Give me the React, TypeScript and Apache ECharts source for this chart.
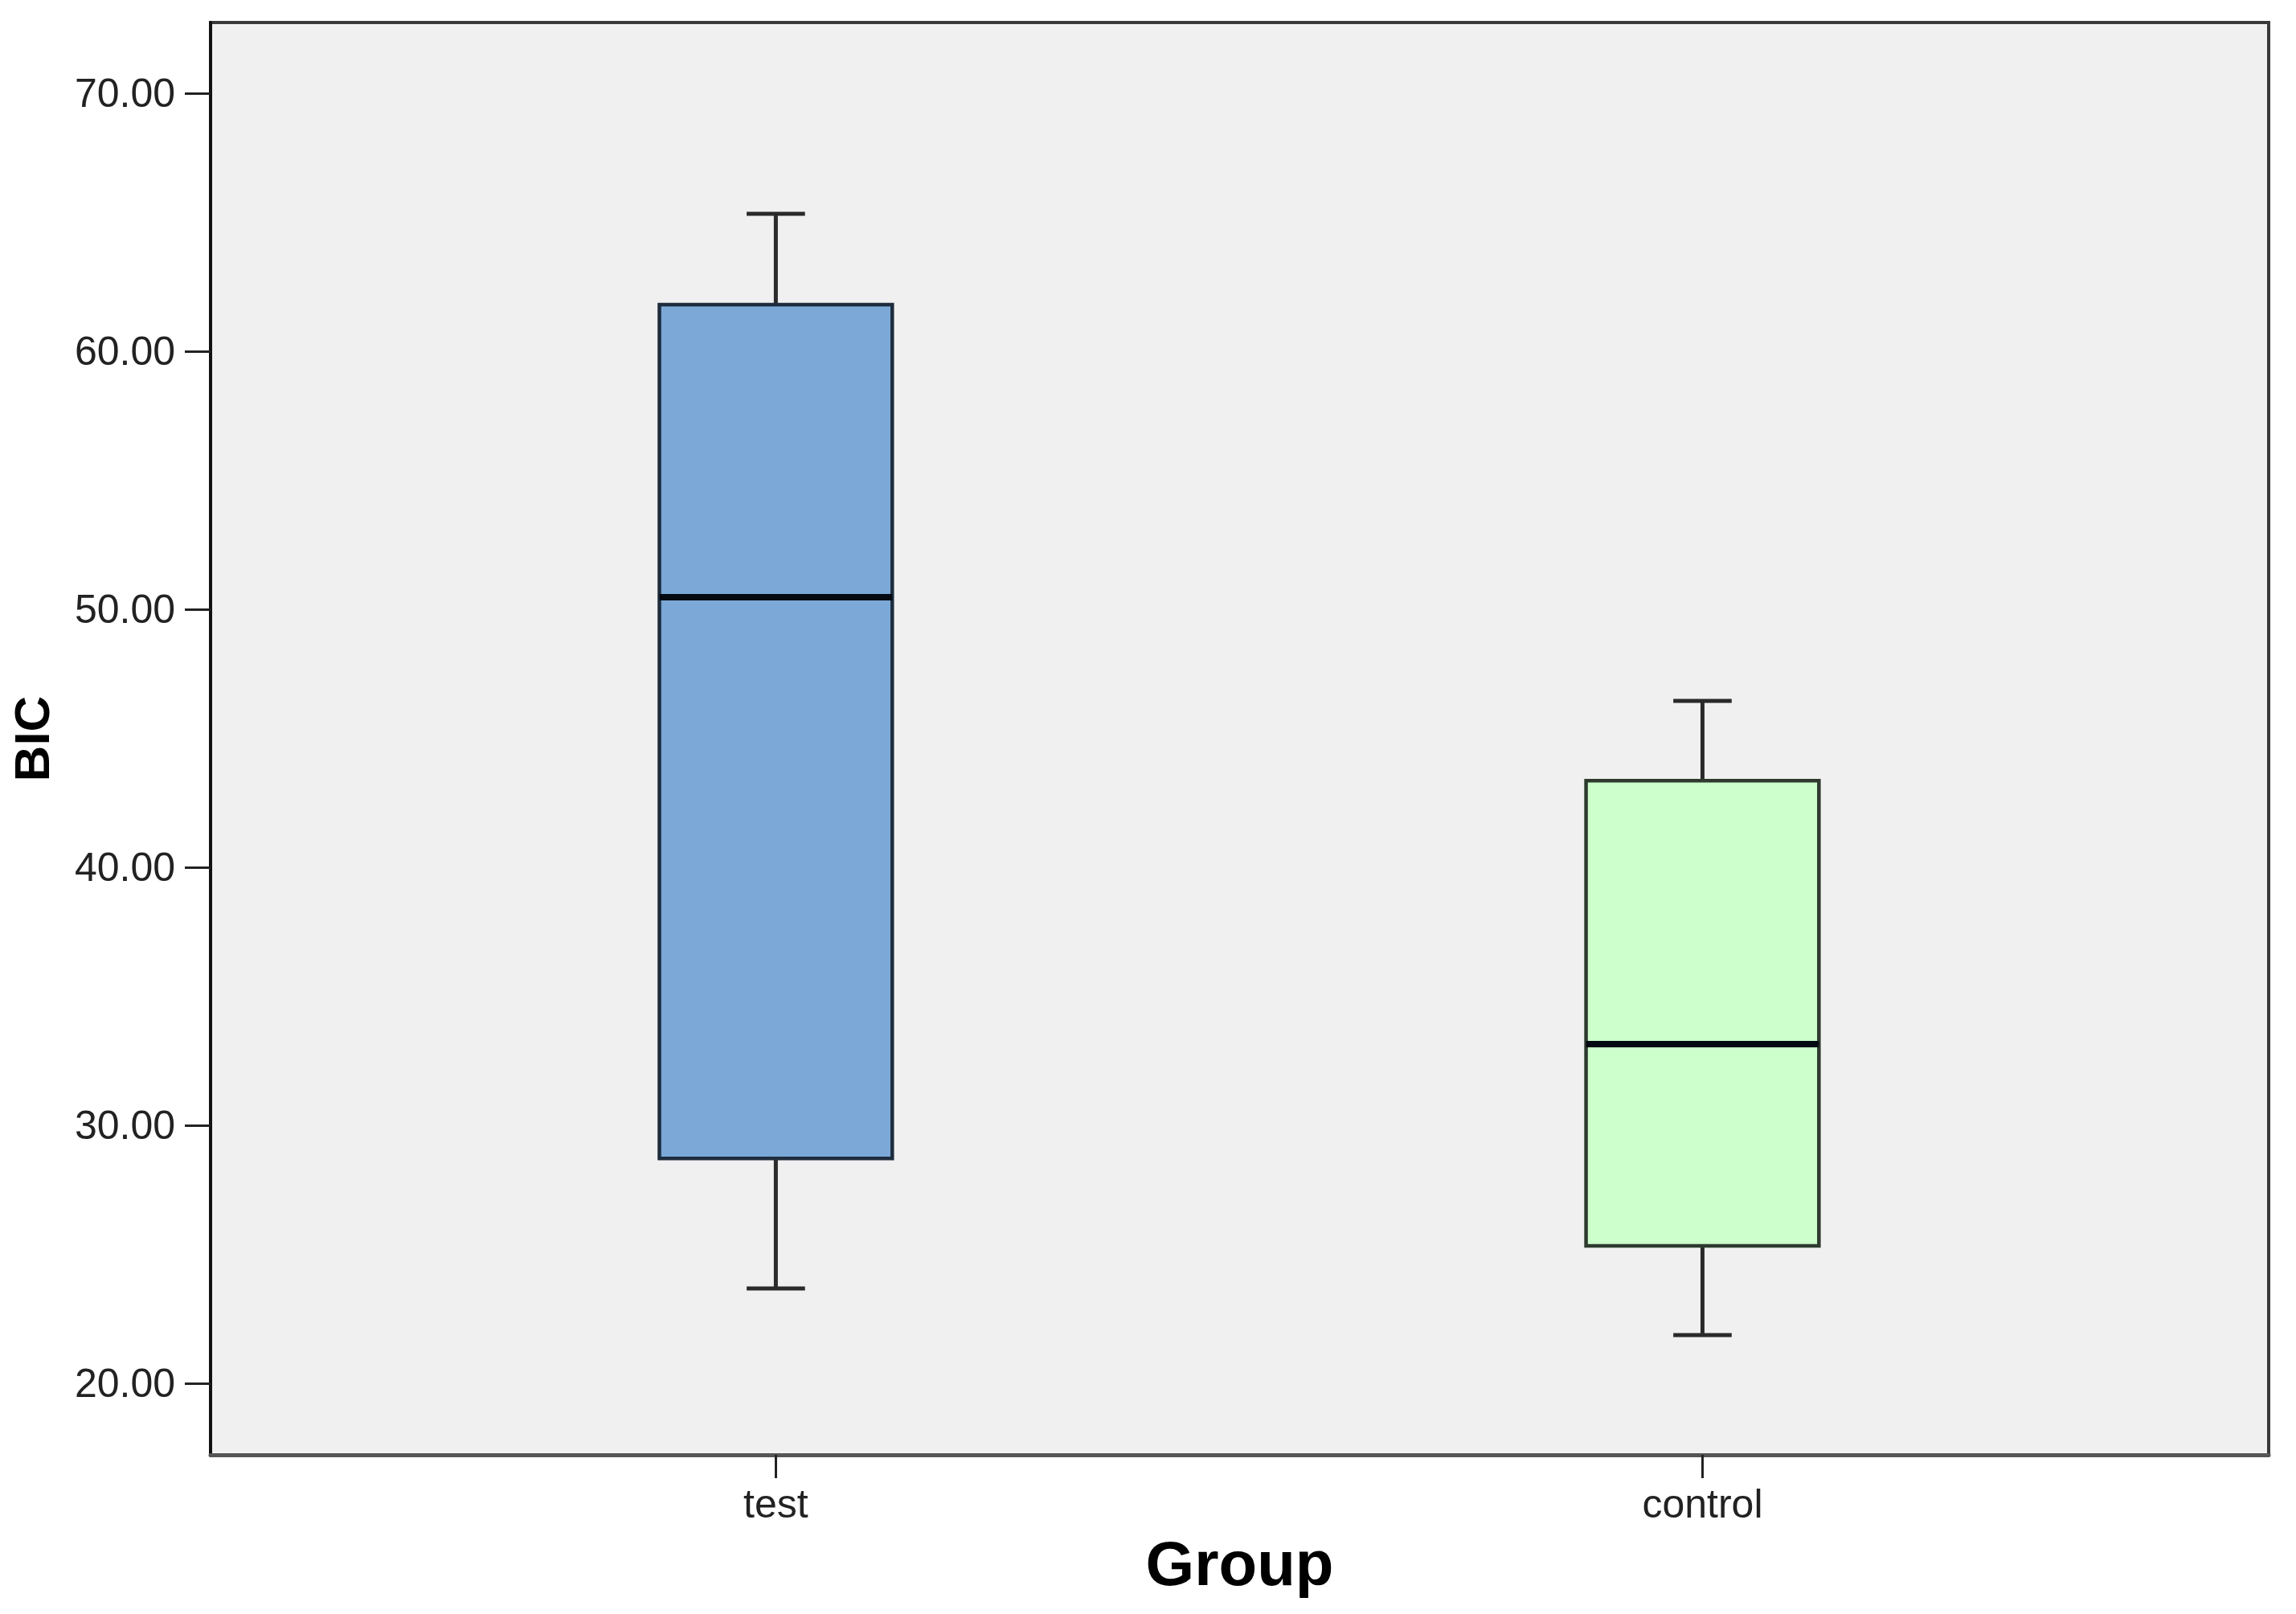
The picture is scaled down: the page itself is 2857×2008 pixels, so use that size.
import React, { useEffect, useRef } from "react";
import * as echarts from "echarts";

const categories = ["test", "control"];
const positions = [1, 2];
const lowWhisker = [23.68, 21.87];
const q1 = [28.72, 25.33];
const median = [50.47, 33.15];
const q3 = [61.81, 43.36];
const highWhisker = [65.33, 46.45];
const yTicks = [20, 30, 40, 50, 60, 70];
const fills = ["#7BA8D6", "#CCFFCC"];
const borders = ["#1E2D3E", "#2E3A2E"];

export default function App() {
  const ref = useRef<HTMLDivElement>(null);
  useEffect(() => {
    if (!ref.current) return;
    const chart = echarts.init(ref.current, null, { renderer: "svg" });
    const data = positions.map((p, i) => [p, lowWhisker[i], q1[i], median[i], q3[i], highWhisker[i]]);
    const font = "'Liberation Sans', Arial, sans-serif";
    chart.setOption({
      animation: false,
      backgroundColor: "#FFFFFF",
      grid: {
        left: 260,
        top: 28,
        right: 34,
        bottom: 198,
        show: true,
        backgroundColor: "#F0F0F0",
        borderColor: "#3A3A3A",
        borderWidth: 4,
      },
      xAxis: {
        type: "value",
        min: 0.39,
        max: 2.611,
        name: "Group",
        nameLocation: "middle",
        nameGap: 96,
        nameTextStyle: { fontSize: 78, fontWeight: "bold", color: "#000", fontFamily: font },
        splitLine: { show: false },
        axisLine: { show: true, onZero: false, lineStyle: { color: "#555", width: 5 } },
        axisTick: { show: true, customValues: positions, length: 29, lineStyle: { color: "#222", width: 3 } },
        axisLabel: {
          customValues: positions,
          formatter: (v: number) => categories[positions.indexOf(v)] ?? "",
          fontSize: 50,
          color: "#222",
          margin: 36,
          fontFamily: font,
        },
      },
      yAxis: {
        type: "value",
        min: 17.23,
        max: 72.74,
        name: "BIC",
        nameLocation: "middle",
        nameGap: 192,
        nameTextStyle: { fontSize: 62, fontWeight: "bold", color: "#000", fontFamily: font },
        splitLine: { show: false },
        axisLine: { show: true, onZero: false, lineStyle: { color: "#111", width: 4 } },
        axisTick: { show: true, customValues: yTicks, length: 32, lineStyle: { color: "#222", width: 3 } },
        axisLabel: {
          customValues: yTicks,
          formatter: (v: number) => v.toFixed(2),
          fontSize: 50,
          color: "#222",
          margin: 44,
          fontFamily: font,
        },
      },
      series: [
        {
          type: "custom",
          data,
          encode: { x: 0, y: [1, 2, 3, 4, 5] },
          renderItem: (params: any, api: any) => {
            const x = api.value(0);
            const pLow = api.coord([x, api.value(1)]);
            const pQ1 = api.coord([x, api.value(2)]);
            const pMed = api.coord([x, api.value(3)]);
            const pQ3 = api.coord([x, api.value(4)]);
            const pHigh = api.coord([x, api.value(5)]);
            const halfW = api.size([0.2513, 0])[0] / 2;
            const capHalf = api.size([0.063, 0])[0] / 2;
            const cx = pMed[0];
            const idx = params.dataIndex;
            const wStyle = { stroke: "#2A2A2A", lineWidth: 5 };
            return {
              type: "group",
              children: [
                { type: "line", shape: { x1: cx, y1: pHigh[1], x2: cx, y2: pQ3[1] }, style: wStyle },
                { type: "line", shape: { x1: cx, y1: pQ1[1], x2: cx, y2: pLow[1] }, style: wStyle },
                { type: "line", shape: { x1: cx - capHalf, y1: pHigh[1], x2: cx + capHalf, y2: pHigh[1] }, style: wStyle },
                { type: "line", shape: { x1: cx - capHalf, y1: pLow[1], x2: cx + capHalf, y2: pLow[1] }, style: wStyle },
                {
                  type: "rect",
                  shape: { x: cx - halfW, y: pQ3[1], width: halfW * 2, height: pQ1[1] - pQ3[1] },
                  style: { fill: fills[idx], stroke: borders[idx], lineWidth: 4.5 },
                },
                {
                  type: "line",
                  shape: { x1: cx - halfW, y1: pMed[1], x2: cx + halfW, y2: pMed[1] },
                  style: { stroke: "#050A12", lineWidth: 8 },
                },
              ],
            };
          },
        },
      ],
    });
    return () => chart.dispose();
  }, []);
  return (
    <div
      ref={ref}
      style={{ position: "fixed", left: 0, top: 0, width: 2857, height: 2008, background: "#fff" }}
    />
  );
}
